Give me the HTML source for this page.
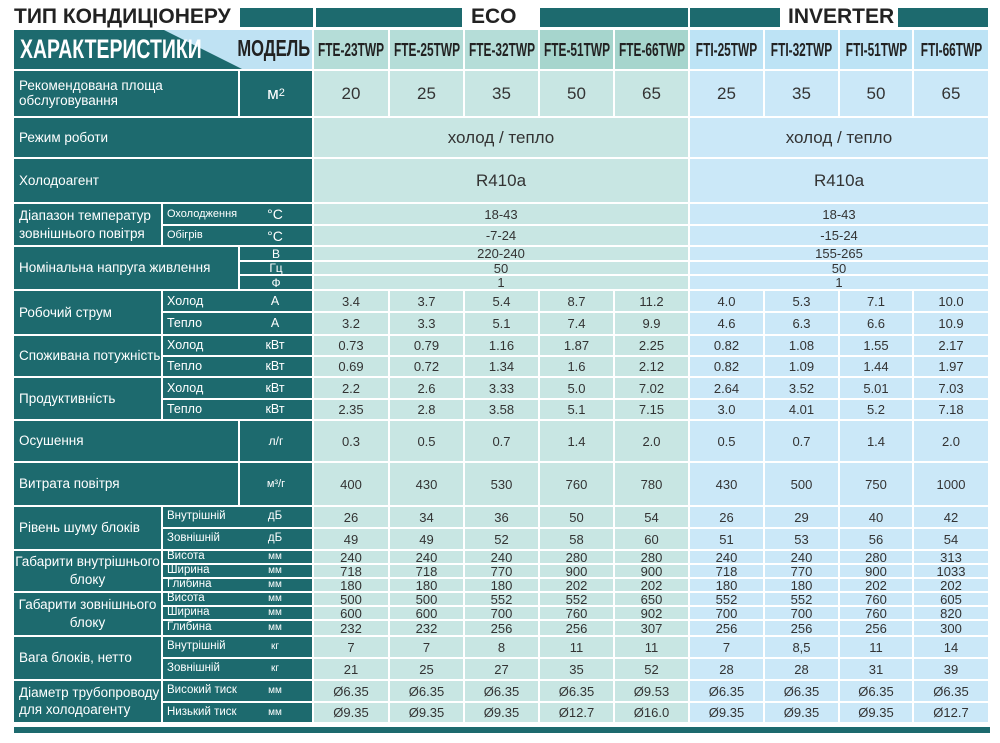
<!DOCTYPE html>
<html><head><meta charset="utf-8"><style>
*{margin:0;padding:0;box-sizing:border-box}
body{width:1000px;height:743px;background:#fff;position:relative;overflow:hidden;font-family:"Liberation Sans",sans-serif;color:#333}
.bar{position:absolute;top:8px;height:19px;background:#1d6a6e}
.ht{position:absolute;top:4px;font-weight:bold;font-size:21px;color:#222;line-height:26px}
.g{position:absolute;left:14px;top:30px;display:grid;gap:2px;
grid-template-columns:147px 75px 72px 74px 73px 73px 73px 73px 73px 73px 72px 74px;
grid-template-rows:39px 45px 39px 43px 20px 19px 13px 12px 13px 20px 21px 19px 19px 20px 19px 40px 42px 20px 20px 12px 12px 12px 12px 12px 14px 20px 20px 20px 19px}
.g>div{display:flex;align-items:center;justify-content:center;font-size:13px;line-height:1;white-space:nowrap;overflow:visible}
.L{background:#1d6a6e;color:#fff;justify-content:flex-start!important;padding-left:5px;font-size:13.5px!important}
.C{justify-content:center!important;padding-left:0}
.U{background:#1d6a6e;color:#fff;font-size:13px}
.S{background:#1d6a6e;color:#fff;position:relative;justify-content:flex-start!important;padding-left:4px;font-size:12.5px!important}
.S i{font-style:normal;position:absolute;left:112px;transform:translateX(-50%)}
.e{background:#c8e6e3}
.v{background:#cbe8f8}
.me{background:#b5ddd8;font-weight:bold;font-size:18px!important;color:#222}
.me2{background:#a6d5cd}
.mv{background:#bde3f5;font-weight:bold;font-size:18px!important;color:#222}
.me span,.mv span{display:inline-block;transform:scaleX(.66)}
.big{font-size:17px!important}
.hd{position:relative;background:#bfe2f3}
</style></head><body>
<div class="ht" style="left:14px">ТИП КОНДИЦІОНЕРУ</div>
<div class="bar" style="left:240px;width:73px"></div>
<div class="bar" style="left:316px;width:146px"></div>
<div class="ht" style="left:471px">ECO</div>
<div class="bar" style="left:540px;width:148px"></div>
<div class="bar" style="left:690px;width:90px"></div>
<div class="ht" style="left:788px">INVERTER</div>
<div class="bar" style="left:898px;width:90px"></div>
<div class="g">
<div class="hd" style="grid-column:span 3;justify-content:flex-end;padding-right:4px">
<svg style="position:absolute;left:0;top:0" width="298" height="39"><polygon points="0,0 150,0 228,39 0,39" fill="#1d6a6e"/></svg>
<span style="position:absolute;left:6px;top:6px;color:#fff;font-weight:bold;font-size:27px;transform:scaleX(.72);transform-origin:left;">ХАРАКТЕРИСТИКИ</span>
<span style="position:absolute;right:2px;top:7px;color:#222;font-weight:bold;font-size:23px;transform:scaleX(.72);transform-origin:right;">МОДЕЛЬ</span></div>
<div class="me"><span>FTE-23TWP</span></div><div class="me"><span>FTE-25TWP</span></div><div class="me"><span>FTE-32TWP</span></div><div class="me me2"><span>FTE-51TWP</span></div><div class="me me2"><span>FTE-66TWP</span></div>
<div class="mv"><span>FTI-25TWP</span></div><div class="mv"><span>FTI-32TWP</span></div><div class="mv"><span>FTI-51TWP</span></div><div class="mv"><span>FTI-66TWP</span></div>

<div class="L" style="grid-column:span 2;line-height:1.05">Рекомендована площа<br>обслуговування</div><div class="U big">м<sup style="font-size:11px">2</sup></div>
<div class="e big">20</div><div class="e big">25</div><div class="e big">35</div><div class="e big">50</div><div class="e big">65</div><div class="v big">25</div><div class="v big">35</div><div class="v big">50</div><div class="v big">65</div>

<div class="L" style="grid-column:span 3">Режим роботи</div><div class="e big" style="grid-column:span 5">холод / тепло</div><div class="v big" style="grid-column:span 4">холод / тепло</div>
<div class="L" style="grid-column:span 3">Холодоагент</div><div class="e big" style="grid-column:span 5">R410a</div><div class="v big" style="grid-column:span 4">R410a</div>

<div class="L" style="grid-row:span 2;line-height:1.3">Діапазон температур<br>зовнішнього повітря</div>
<div class="S" style="grid-column:span 2;font-size:11px!important">Охолодження<i style="font-size:14px">°C</i></div><div class="e" style="grid-column:span 5">18-43</div><div class="v" style="grid-column:span 4">18-43</div>
<div class="S" style="grid-column:span 2;font-size:11px!important">Обігрів<i style="font-size:14px">°C</i></div><div class="e" style="grid-column:span 5">-7-24</div><div class="v" style="grid-column:span 4">-15-24</div>

<div class="L" style="grid-column:span 2;grid-row:span 3">Номінальна напруга живлення</div>
<div class="U" style="font-size:12px">В</div><div class="e" style="grid-column:span 5">220-240</div><div class="v" style="grid-column:span 4">155-265</div>
<div class="U" style="font-size:12px">Гц</div><div class="e" style="grid-column:span 5">50</div><div class="v" style="grid-column:span 4">50</div>
<div class="U" style="font-size:12px">Ф</div><div class="e" style="grid-column:span 5">1</div><div class="v" style="grid-column:span 4">1</div>

<div class="L" style="grid-row:span 2">Робочий струм</div>
<div class="S" style="grid-column:span 2">Холод<i>А</i></div><div class="e">3.4</div><div class="e">3.7</div><div class="e">5.4</div><div class="e">8.7</div><div class="e">11.2</div><div class="v">4.0</div><div class="v">5.3</div><div class="v">7.1</div><div class="v">10.0</div>
<div class="S" style="grid-column:span 2">Тепло<i>А</i></div><div class="e">3.2</div><div class="e">3.3</div><div class="e">5.1</div><div class="e">7.4</div><div class="e">9.9</div><div class="v">4.6</div><div class="v">6.3</div><div class="v">6.6</div><div class="v">10.9</div>

<div class="L" style="grid-row:span 2">Споживана потужність</div>
<div class="S" style="grid-column:span 2">Холод<i>кВт</i></div><div class="e">0.73</div><div class="e">0.79</div><div class="e">1.16</div><div class="e">1.87</div><div class="e">2.25</div><div class="v">0.82</div><div class="v">1.08</div><div class="v">1.55</div><div class="v">2.17</div>
<div class="S" style="grid-column:span 2">Тепло<i>кВт</i></div><div class="e">0.69</div><div class="e">0.72</div><div class="e">1.34</div><div class="e">1.6</div><div class="e">2.12</div><div class="v">0.82</div><div class="v">1.09</div><div class="v">1.44</div><div class="v">1.97</div>

<div class="L" style="grid-row:span 2">Продуктивність</div>
<div class="S" style="grid-column:span 2">Холод<i>кВт</i></div><div class="e">2.2</div><div class="e">2.6</div><div class="e">3.33</div><div class="e">5.0</div><div class="e">7.02</div><div class="v">2.64</div><div class="v">3.52</div><div class="v">5.01</div><div class="v">7.03</div>
<div class="S" style="grid-column:span 2">Тепло<i>кВт</i></div><div class="e">2.35</div><div class="e">2.8</div><div class="e">3.58</div><div class="e">5.1</div><div class="e">7.15</div><div class="v">3.0</div><div class="v">4.01</div><div class="v">5.2</div><div class="v">7.18</div>

<div class="L" style="grid-column:span 2">Осушення</div><div class="U" style="font-size:12px">л/г</div>
<div class="e">0.3</div><div class="e">0.5</div><div class="e">0.7</div><div class="e">1.4</div><div class="e">2.0</div><div class="v">0.5</div><div class="v">0.7</div><div class="v">1.4</div><div class="v">2.0</div>
<div class="L" style="grid-column:span 2">Витрата повітря</div><div class="U" style="font-size:11px">м³/г</div>
<div class="e">400</div><div class="e">430</div><div class="e">530</div><div class="e">760</div><div class="e">780</div><div class="v">430</div><div class="v">500</div><div class="v">750</div><div class="v">1000</div>

<div class="L" style="grid-row:span 2">Рівень шуму блоків</div>
<div class="S" style="grid-column:span 2;font-size:11.5px!important">Внутрішній<i>дБ</i></div><div class="e">26</div><div class="e">34</div><div class="e">36</div><div class="e">50</div><div class="e">54</div><div class="v">26</div><div class="v">29</div><div class="v">40</div><div class="v">42</div>
<div class="S" style="grid-column:span 2;font-size:11.5px!important">Зовнішній<i>дБ</i></div><div class="e">49</div><div class="e">49</div><div class="e">52</div><div class="e">58</div><div class="e">60</div><div class="v">51</div><div class="v">53</div><div class="v">56</div><div class="v">54</div>

<div class="L C" style="grid-row:span 3;text-align:center;line-height:1.3">Габарити внутрішнього<br>блоку</div>
<div class="S" style="grid-column:span 2;font-size:11.5px!important">Висота<i style="font-size:10px">мм</i></div><div class="e">240</div><div class="e">240</div><div class="e">240</div><div class="e">280</div><div class="e">280</div><div class="v">240</div><div class="v">240</div><div class="v">280</div><div class="v">313</div>
<div class="S" style="grid-column:span 2;font-size:11.5px!important">Ширина<i style="font-size:10px">мм</i></div><div class="e">718</div><div class="e">718</div><div class="e">770</div><div class="e">900</div><div class="e">900</div><div class="v">718</div><div class="v">770</div><div class="v">900</div><div class="v">1033</div>
<div class="S" style="grid-column:span 2;font-size:11.5px!important">Глибина<i style="font-size:10px">мм</i></div><div class="e">180</div><div class="e">180</div><div class="e">180</div><div class="e">202</div><div class="e">202</div><div class="v">180</div><div class="v">180</div><div class="v">202</div><div class="v">202</div>

<div class="L C" style="grid-row:span 3;text-align:center;line-height:1.3">Габарити зовнішнього<br>блоку</div>
<div class="S" style="grid-column:span 2;font-size:11.5px!important">Висота<i style="font-size:10px">мм</i></div><div class="e">500</div><div class="e">500</div><div class="e">552</div><div class="e">552</div><div class="e">650</div><div class="v">552</div><div class="v">552</div><div class="v">760</div><div class="v">605</div>
<div class="S" style="grid-column:span 2;font-size:11.5px!important">Ширина<i style="font-size:10px">мм</i></div><div class="e">600</div><div class="e">600</div><div class="e">700</div><div class="e">760</div><div class="e">902</div><div class="v">700</div><div class="v">700</div><div class="v">760</div><div class="v">820</div>
<div class="S" style="grid-column:span 2;font-size:11.5px!important">Глибина<i style="font-size:10px">мм</i></div><div class="e">232</div><div class="e">232</div><div class="e">256</div><div class="e">256</div><div class="e">307</div><div class="v">256</div><div class="v">256</div><div class="v">256</div><div class="v">300</div>

<div class="L" style="grid-row:span 2">Вага блоків, нетто</div>
<div class="S" style="grid-column:span 2;font-size:11.5px!important">Внутрішній<i style="font-size:10px">кг</i></div><div class="e">7</div><div class="e">7</div><div class="e">8</div><div class="e">11</div><div class="e">11</div><div class="v">7</div><div class="v">8,5</div><div class="v">11</div><div class="v">14</div>
<div class="S" style="grid-column:span 2;font-size:11.5px!important">Зовнішній<i style="font-size:10px">кг</i></div><div class="e">21</div><div class="e">25</div><div class="e">27</div><div class="e">35</div><div class="e">52</div><div class="v">28</div><div class="v">28</div><div class="v">31</div><div class="v">39</div>

<div class="L" style="grid-row:span 2;line-height:1.25">Діаметр трубопроводу<br>для холодоагенту</div>
<div class="S" style="grid-column:span 2;font-size:11.5px!important">Високий тиск<i style="font-size:10px">мм</i></div><div class="e">Ø6.35</div><div class="e">Ø6.35</div><div class="e">Ø6.35</div><div class="e">Ø6.35</div><div class="e">Ø9.53</div><div class="v">Ø6.35</div><div class="v">Ø6.35</div><div class="v">Ø6.35</div><div class="v">Ø6.35</div>
<div class="S" style="grid-column:span 2;font-size:11.5px!important">Низький тиск<i style="font-size:10px">мм</i></div><div class="e">Ø9.35</div><div class="e">Ø9.35</div><div class="e">Ø9.35</div><div class="e">Ø12.7</div><div class="e">Ø16.0</div><div class="v">Ø9.35</div><div class="v">Ø9.35</div><div class="v">Ø9.35</div><div class="v">Ø12.7</div>
</div>
<div style="position:absolute;left:14px;top:727px;width:976px;height:6px;background:#1d6a6e"></div>
</body></html>
